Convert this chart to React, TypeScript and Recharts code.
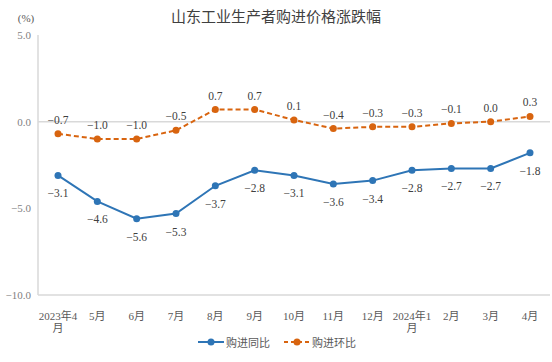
import {
  LineChart,
  Line,
  XAxis,
  YAxis,
  ReferenceLine,
  Legend,
  LabelList,
} from "recharts";

const months = [
  "2023年4月",
  "5月",
  "6月",
  "7月",
  "8月",
  "9月",
  "10月",
  "11月",
  "12月",
  "2024年1月",
  "2月",
  "3月",
  "4月",
];
const yoy = [-3.1, -4.6, -5.6, -5.3, -3.7, -2.8, -3.1, -3.6, -3.4, -2.8, -2.7, -2.7, -1.8];
const mom = [-0.7, -1.0, -1.0, -0.5, 0.7, 0.7, 0.1, -0.4, -0.3, -0.3, -0.1, 0.0, 0.3];
const yTicks = [-10, -5, 0, 5];

const BLUE = "#2e75b6";
const ORANGE = "#d8640f";
const GRID = "#d9d9d9";
const FONT = "'Liberation Serif', 'Noto Sans CJK SC', serif";

const data = months.map((m, i) => ({ month: m, yoy: yoy[i], mom: mom[i] }));

const fmt = (v: number) => (v < 0 ? "\u2212" + Math.abs(v).toFixed(1) : v.toFixed(1));

const MonthTick = ({ x, y, payload }: any) => {
  const s: string = payload.value;
  const lines = s.length > 4 ? [s.slice(0, -1), s.slice(-1)] : [s];
  return (
    <g>
      {lines.map((l, i) => (
        <text
          key={i}
          x={x}
          y={y + 17 + i * 12}
          textAnchor="middle"
          fontSize={11}
          fontFamily={FONT}
          fill="#595959"
        >
          {l}
        </text>
      ))}
    </g>
  );
};

const makeLabel = (dy: number) => (props: any) => {
  const { x, y, value } = props;
  return (
    <text
      x={x}
      y={y + dy}
      textAnchor="middle"
      fontSize={11.5}
      fontFamily={FONT}
      fill="#404040"
    >
      {fmt(value)}
    </text>
  );
};

const LegendBox = () => (
  <div
    style={{
      display: "flex",
      justifyContent: "center",
      gap: 14,
      height: 18,
      alignItems: "center",
      fontFamily: FONT,
      fontSize: 11,
      color: "#595959",
      paddingLeft: 4,
    }}
  >
    <span style={{ display: "flex", alignItems: "center" }}>
      <svg width={26} height={10}>
        <line x1={0} y1={5} x2={26} y2={5} stroke={BLUE} strokeWidth={2} />
        <circle cx={13} cy={5} r={3.5} fill={BLUE} />
      </svg>
      <span style={{ marginLeft: 2 }}>购进同比</span>
    </span>
    <span style={{ display: "flex", alignItems: "center" }}>
      <svg width={26} height={10}>
        <line x1={0} y1={5} x2={26} y2={5} stroke={ORANGE} strokeWidth={2} strokeDasharray="4 3" />
        <circle cx={13} cy={5} r={3.5} fill={ORANGE} />
      </svg>
      <span style={{ marginLeft: 2 }}>购进环比</span>
    </span>
  </div>
);

export default function App() {
  return (
    <div style={{ position: "absolute", left: 0, top: 0, width: 552, height: 362, background: "#fff" }}>
      <LineChart
        width={552}
        height={362}
        data={data}
        margin={{ top: 35, right: 2, bottom: 11, left: 0 }}
      >
        <text x={276} y={22} textAnchor="middle" fontSize={15} fontFamily={FONT} fill="#404040">
          山东工业生产者购进价格涨跌幅
        </text>
        <text x={26} y={22} textAnchor="middle" fontSize={11} fontFamily={FONT} fill="#595959">
          (%)
        </text>
        <XAxis
          dataKey="month"
          interval={0}
          height={38}
          padding={{ left: 20, right: 20 }}
          tickLine={false}
          axisLine={{ stroke: GRID, strokeWidth: 1.5 }}
          tick={<MonthTick />}
        />
        <XAxis xAxisId="top" orientation="top" dataKey="month" height={0} tick={false} tickLine={false} axisLine={{ stroke: GRID, strokeWidth: 1.5 }} />
        <YAxis
          domain={[-10, 5]}
          ticks={yTicks}
          width={38}
          tickLine={false}
          tickSize={0}
          tickMargin={7}
          tickFormatter={fmt}
          axisLine={{ stroke: GRID, strokeWidth: 1.5 }}
          tick={{ fontSize: 11, fontFamily: FONT, fill: "#7f7f7f" }}
        />
        <YAxis yAxisId="right" orientation="right" domain={[-10, 5]} width={0} tick={false} tickLine={false} axisLine={{ stroke: GRID, strokeWidth: 1.5 }} />
        <ReferenceLine y={0} stroke={GRID} strokeWidth={1.5} />
        <Line
          dataKey="yoy"
          name="购进同比"
          stroke={BLUE}
          strokeWidth={2}
          dot={{ r: 3.5, fill: BLUE, stroke: BLUE, strokeWidth: 0 }}
          isAnimationActive={false}
        >
          <LabelList dataKey="yoy" content={makeLabel(22)} />
        </Line>
        <Line
          dataKey="mom"
          name="购进环比"
          stroke={ORANGE}
          strokeWidth={2}
          strokeDasharray="5 3"
          dot={{ r: 3.5, fill: ORANGE, stroke: ORANGE, strokeWidth: 0 }}
          isAnimationActive={false}
        >
          <LabelList dataKey="mom" content={makeLabel(-10)} />
        </Line>
        <Legend verticalAlign="bottom" content={<LegendBox />} />
      </LineChart>
    </div>
  );
}
